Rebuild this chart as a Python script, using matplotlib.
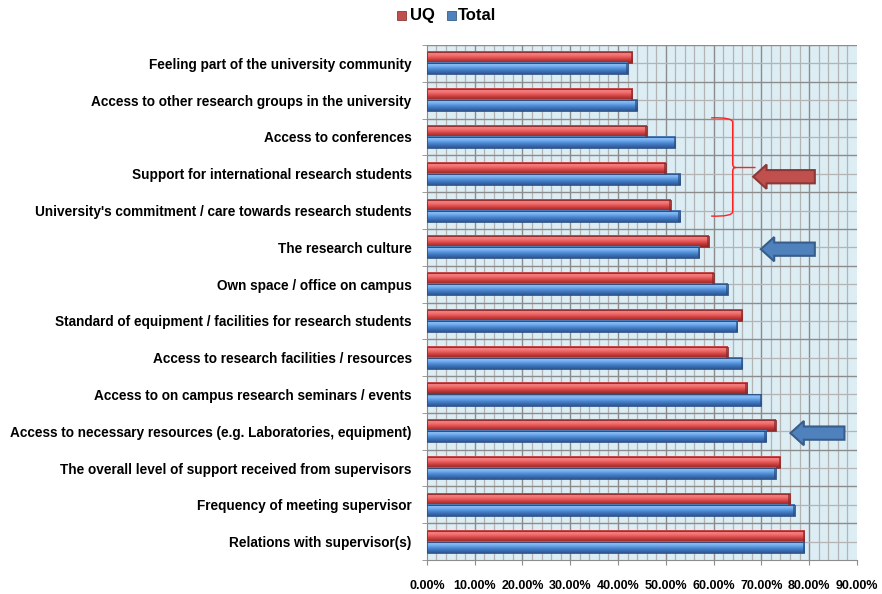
import numpy as np
import matplotlib
matplotlib.use('Agg')
import matplotlib.pyplot as plt
from matplotlib.colors import LinearSegmentedColormap
from matplotlib.patches import FancyArrow, Rectangle
from matplotlib.path import Path
from matplotlib.patches import PathPatch

plt.rcParams['font.family'] = ['Liberation Sans', 'DejaVu Sans']

categories = [
    'Feeling part of the university community',
    'Access to other research groups in the university',
    'Access to conferences',
    'Support for international research students',
    "University's commitment / care towards research students",
    'The research culture',
    'Own space / office on campus',
    'Standard of equipment / facilities for research students',
    'Access to research facilities / resources',
    'Access to on campus research seminars / events',
    'Access to necessary resources (e.g. Laboratories, equipment)',
    'The overall level of support received from supervisors',
    'Frequency of meeting supervisor',
    'Relations with supervisor(s)',
]
uq = [43, 43, 46, 50, 51, 59, 60, 66, 63, 67, 73, 74, 76, 79]
total = [42, 44, 52, 53, 53, 57, 63, 65, 66, 70, 71, 73, 77, 79]
xticks = [0, 10, 20, 30, 40, 50, 60, 70, 80, 90]

red_cmap = LinearSegmentedColormap.from_list(
    'r', ['#b83a3a', '#f48383', '#f06a6a', '#d94a4a', '#b53434', '#8e2828'])
blue_cmap = LinearSegmentedColormap.from_list(
    'b', ['#3c6aa8', '#8cc0f4', '#6aa6ea', '#4a86d0', '#3a6cb0', '#2c5590'])

fig = plt.figure(figsize=(8.82, 5.94), dpi=100)
ax = fig.add_axes([0.484, 0.0572, 0.4875, 0.867])
ax.set_facecolor('#dcedf3')

n = len(categories)
ax.set_xlim(0, 90)
ax.set_ylim(n - 0.5, -0.5)

# grid
for x in np.arange(2, 90, 2):
    col = '#8c8c8c' if x % 10 == 0 else '#b4b4b4'
    lw = 1.0 if x % 10 == 0 else 0.9
    ax.axvline(x, color=col, lw=lw, zorder=1)
for i in range(n):
    ax.axhline(i, color='#b4b4b4', lw=0.9, zorder=1)
    ax.axhline(i - 0.5, color='#8c8c8c', lw=1.0, zorder=1)

bh = 0.3
grad = np.linspace(0, 1, 64).reshape(-1, 1)
for i in range(n):
    for val, y0, cmap, edge in [(uq[i], i - bh, red_cmap, '#8a2a2a'),
                                (total[i], i, blue_cmap, '#2a4f85')]:
        ax.imshow(grad, cmap=cmap, aspect='auto', extent=(0, val, y0 + bh, y0),
                  zorder=3, interpolation='bilinear')
        ax.add_patch(Rectangle((0, y0), val, bh, fill=False, ec=edge, lw=0.6, zorder=4))
        ax.add_patch(Rectangle((val - 0.35, y0), 0.35, bh, fc=edge, ec='none', alpha=0.7, zorder=4))

ax.set_yticks(range(n))
ax.set_yticklabels(categories, fontsize=9.8, fontweight='bold')
ax.set_yticks(np.arange(-0.5, n, 1), minor=True)
ax.tick_params(axis='y', which='major', length=0, pad=11)
ax.tick_params(axis='y', which='minor', length=3.5, color='#8c8c8c', direction='out')
ax.set_xticks(xticks)
ax.set_xticklabels(['%.2f%%' % v for v in xticks], fontsize=9, fontweight='bold')
ax.tick_params(axis='x', length=3.5, color='#8c8c8c', pad=11)
for s in ax.spines.values():
    s.set_color('#8c8c8c')
ax.spines['top'].set_visible(False)
ax.spines['right'].set_visible(False)

# curly brace grouping three rows
bx0, bx1, bxt = 59.5, 64.0, 68.8
yt, ym, yb = 1.48, 2.83, 4.15
verts = [(bx0, yt), (bx1, yt - 0.02), (bx1, yt + 0.12),
         (bx1, ym - 0.1), (bx1, ym), (bx1 + 0.7, ym), (bxt, ym),
         (bx1 + 0.7, ym), (bx1, ym), (bx1, ym + 0.1),
         (bx1, yb - 0.12), (bx1, yb + 0.02), (bx0, yb)]
codes = [Path.MOVETO, Path.CURVE3, Path.CURVE3,
         Path.LINETO, Path.CURVE3, Path.CURVE3, Path.LINETO,
         Path.MOVETO, Path.CURVE3, Path.CURVE3,
         Path.LINETO, Path.CURVE3, Path.CURVE3]
ax.add_patch(PathPatch(Path(verts, codes), fill=False, ec='#ff2020', lw=1.0, zorder=5))

# arrows
arrows = [(81.2, 3.08, '#c0504d', '#8c3836', 12.9),
          (81.2, 5.05, '#4f81bd', '#385d8a', 11.3),
          (87.4, 10.05, '#4f81bd', '#385d8a', 11.3)]
for x, y, fc, ec, ln in arrows:
    ax.add_patch(FancyArrow(x, y, -ln, 0, width=0.36, head_width=0.66,
                            head_length=2.8, length_includes_head=True,
                            fc=fc, ec=ec, lw=1.5, zorder=6, clip_on=False))

# legend
fig.text(0.465, 0.974, 'UQ', fontsize=12, fontweight='bold', ha='left', va='center')
fig.text(0.519, 0.974, 'Total', fontsize=12, fontweight='bold', ha='left', va='center')
fig.patches.append(Rectangle((0.450, 0.967), 0.0105, 0.0150, fc='#c0504d', ec='#8c3836',
                             lw=0.6, transform=fig.transFigure, figure=fig))
fig.patches.append(Rectangle((0.507, 0.967), 0.0105, 0.0150, fc='#4f81bd', ec='#385d8a',
                             lw=0.6, transform=fig.transFigure, figure=fig))

fig.savefig('out.png', dpi=100)
